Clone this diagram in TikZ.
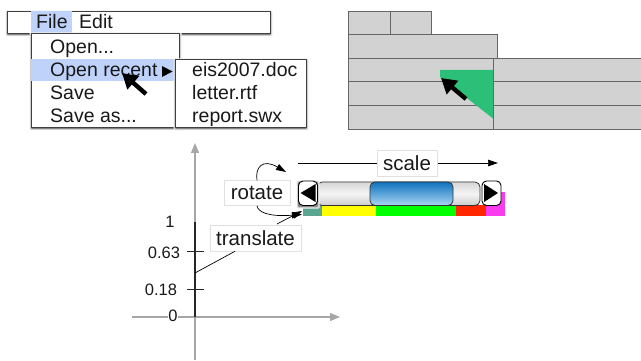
\documentclass[tikz,border=0pt]{standalone}
\usepackage{fontspec}
\setmainfont{Liberation Sans}
\usetikzlibrary{arrows.meta}
\definecolor{hl}{HTML}{BFD2FA}
\definecolor{cellgray}{HTML}{D2D2D2}
\definecolor{celledge}{HTML}{666666}
\definecolor{axisgray}{HTML}{A6A6A6}
\definecolor{greenwedge}{HTML}{2BBF78}
\definecolor{HLtop}{HTML}{0F72BE}
\definecolor{HLbot}{HTML}{A9D6F2}
\definecolor{puregreen}{RGB}{0,255,0}
\definecolor{pureyellow}{RGB}{255,255,0}
\newcommand{\softshadow}[4]{%
  \foreach \e/\o in {2/6,1.4/14,.8/28,.3/48}{%
    \fill[black!\o,rounded corners=1pt] (#1+.5-\e,#2+1.5-\e) rectangle (#3+.5+\e,#4+1.5+\e);}}
\tikzset{
  x=1pt,y=-1pt,
  menubox/.style={draw=black!75,line width=.8pt,fill=white,anchor=north west,inner sep=0pt,outer sep=0pt},
  hlbox/.style={fill=hl,draw=none,anchor=north west,inner sep=0pt,outer sep=0pt},
  menutext/.style={font=\fontsize{19.5}{22}\selectfont,anchor=base west,inner sep=0pt,text=black!90},
  cell/.style={draw=celledge,line width=.7pt,fill=cellgray,anchor=north west,inner sep=0pt,outer sep=0pt},
  labelbox/.style={draw=black!12,line width=.5pt,fill=white,inner sep=0pt,font=\fontsize{20.5}{22}\selectfont,text=black!90},
  ticklabel/.style={font=\fontsize{16.5}{20}\selectfont,inner sep=0pt,text=black!90},
  bigarrow/.style={line width=4.4pt,black,-{Triangle[width=17pt,length=15pt]}},
  thinline/.style={line width=.7pt,black},
  thinarrow/.style={line width=.7pt,black,-{Triangle[width=6.5pt,length=10pt]}},
  axisarrow/.style={line width=1.2pt,axisgray,-{Triangle[width=8pt,length=10pt]}},
  tickline/.style={line width=.8pt,black!85},
  track/.style={draw=black!80,line width=.8pt,rounded corners=5pt,anchor=north west,inner sep=0pt,outer sep=0pt,top color=black!16,bottom color=black!20,middle color=black!4},
  thumb/.style={draw=black!80,line width=.8pt,rounded corners=5pt,anchor=north west,inner sep=0pt,outer sep=0pt,top color=HLtop,bottom color=HLbot},
  btn/.style={draw=black,line width=.9pt,rounded corners=4.5pt,fill=white,anchor=north west,inner sep=0pt,outer sep=0pt},
  bar/.style={draw=none,anchor=north west,inner sep=0pt,outer sep=0pt},
}
\begin{document}
\begin{tikzpicture}
\useasboundingbox (0,0) rectangle (641,361);
% ---------- menus ----------
\softshadow{7}{11}{270}{33}
\node[menubox,minimum width=263pt,minimum height=22pt] (menubar) at (7,11) {};
\node[hlbox,minimum width=41pt,minimum height=22pt] (filehl) at (31,11) {};
\softshadow{31}{33}{179}{127}
\node[menubox,minimum width=148pt,minimum height=94pt] (menu) at (31,33) {};
\node[hlbox,minimum width=144pt,minimum height=22pt] (recenthl) at (31.4,59) {};
\softshadow{175}{59}{306}{127}
\node[menubox,minimum width=131pt,minimum height=68pt] (submenu) at (175,59) {};
\node[menutext] (file) at (36,29) {File};
\node[menutext] (edit) at (79,29) {Edit};
\node[menutext] (open) at (50,54) {Open...};
\node[menutext] (recent) at (50,77) {Open recent};
\node[menutext] (save) at (50,100) {Save};
\node[menutext] (saveas) at (50,123) {Save as...};
\node[menutext] (eis) at (192,77) {eis2007.doc};
\node[menutext] (letter) at (192,100) {letter.rtf};
\node[menutext] (report) at (192,123) {report.swx};
\fill[black] (162,66) -- (172.5,71.5) -- (162,77) -- cycle;
\coordinate (mtail) at (146,94);
\coordinate (mtip) at (122,73);
\draw[bigarrow] (mtail) -- (mtip);
% ---------- cells ----------
\node[cell,minimum width=41.5pt,minimum height=23pt] (c1) at (348.5,11.5) {};
\node[cell,minimum width=41.5pt,minimum height=23pt] (c2) at (390,11.5) {};
\node[cell,minimum width=149pt,minimum height=24pt] (c3) at (348.5,34.5) {};
\node[cell,minimum width=145pt,minimum height=23pt] (c4) at (348.5,58.5) {};
\node[cell,minimum width=145pt,minimum height=24pt] (c5) at (348.5,81.5) {};
\node[cell,minimum width=145pt,minimum height=24pt] (c6) at (348.5,105.5) {};
\node[cell,minimum width=150pt,minimum height=23pt] (c7) at (493.5,58.5) {};
\node[cell,minimum width=150pt,minimum height=24pt] (c8) at (493.5,81.5) {};
\node[cell,minimum width=150pt,minimum height=24pt] (c9) at (493.5,105.5) {};
\fill[greenwedge] (440,70) -- (493,70) -- (493,118.5) -- (440,77) -- cycle;
\coordinate (ctail) at (466,99);
\coordinate (ctip) at (441,78);
\draw[bigarrow] (ctail) -- (ctip);
% ---------- axes ----------
\coordinate (ybot) at (195,360);
\coordinate (ytop) at (195,143);
\coordinate (xl) at (132,317);
\coordinate (xr) at (340,317);
\draw[axisarrow] (ybot) -- (ytop);
\draw[axisarrow] (xl) -- (xr);
\draw[line width=1.3pt,black!85] (195,222) -- (195,317);
\draw[tickline] (187,251.5) -- (204,251.5);
\draw[tickline] (187,289.5) -- (204,289.5);
\node[ticklabel] (t1) at (170,222) {1};
\node[ticklabel] (t063) at (164,253) {0.63};
\node[ticklabel] (t018) at (161,290) {0.18};
\node[ticklabel,fill=white,inner sep=.5pt] (t0) at (173,316) {0};
% ---------- colour bar ----------
\node[bar,fill={rgb,255:red,92;green,165;blue,145},minimum width=19pt,minimum height=11pt] (b1) at (303,205) {};
\node[bar,fill=pureyellow,minimum width=54pt,minimum height=11pt] (b2) at (322,205) {};
\node[bar,fill=puregreen,minimum width=80pt,minimum height=11pt] (b3) at (376,205) {};
\node[bar,fill={rgb,255:red,255;green,38;blue,0},minimum width=30pt,minimum height=11pt] (b4) at (456,205) {};
\node[bar,fill={rgb,255:red,250;green,60;blue,240},minimum width=19pt,minimum height=24pt] (b5) at (486,192) {};
% ---------- slider ----------
\node[track,minimum width=163pt,minimum height=23.5pt] (trk) at (317,182) {};
\node[thumb,minimum width=83pt,minimum height=23.5pt] (thb) at (370,182) {};
\softshadow{298}{181}{317}{205}
\node[btn,minimum width=19pt,minimum height=24.5pt] (lb) at (298.5,181) {};
\node[btn,minimum width=19pt,minimum height=24.5pt] (rb) at (482,181) {};
\fill[black] (300.5,193) -- (315.5,184) -- (315.5,202) -- cycle;
\fill[black] (498,193) -- (484,184) -- (484,202) -- cycle;
% ---------- annotations ----------
\coordinate (scl) at (298,163);
\coordinate (scr) at (498,163);
\draw[thinarrow] (scl) -- (scr);
\node[labelbox,minimum width=60pt,minimum height=26pt] (scale) at (407,163) {scale};
\coordinate (trst) at (195,273);
\coordinate (trtip) at (302,211);
\node[labelbox,minimum width=66pt,minimum height=25pt] (rotate) at (257,193) {rotate};
\coordinate (r1tip) at (286,172);
\coordinate (r2tip) at (302,214.5);
\draw[thinarrow] (rotate.north) .. controls (255,168) and (262,158) .. (r1tip);
\draw[thinarrow] (rotate.south) .. controls (258,212) and (268,217) .. (r2tip);
\node[labelbox,minimum width=91pt,minimum height=26pt] (translate) at (255.5,238) {translate};
\draw[thinline] (trst) -- (translate.south west -| 235,250);
\draw[thinarrow] (277,224) -- (trtip);
\end{tikzpicture}
\end{document}
